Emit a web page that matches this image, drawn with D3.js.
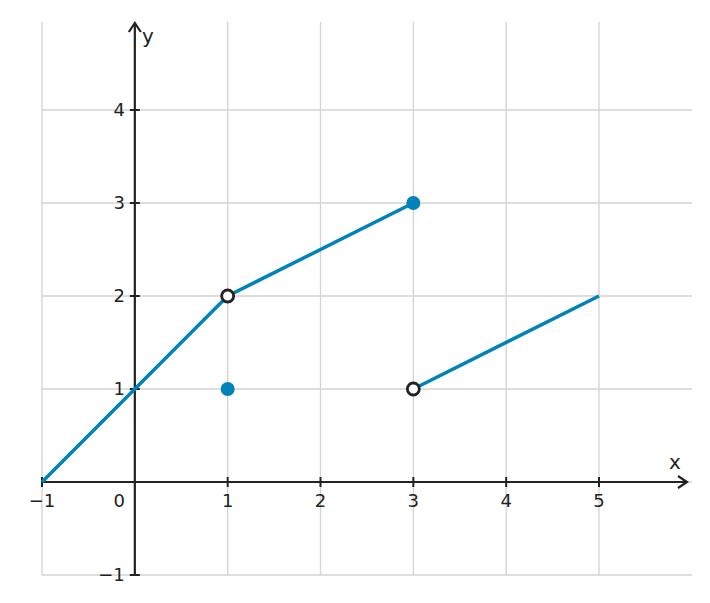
<!DOCTYPE html>
<html><head><meta charset="utf-8">
<script src="https://cdn.jsdelivr.net/npm/d3@7"></script>
<style>body{margin:0;background:#fff}text{font-family:"DejaVu Sans",sans-serif;fill:#222}</style>
</head><body><svg id="c" width="710" height="603"></svg>
<script>
const xTicks=[-1,1,2,3,4,5];
const yTicks=[-1,1,2,3,4];
const segments=[[[-1,0],[1,2]],[[1,2],[3,3]],[[3,1],[5,2]]];
const filledPts=[[1,1],[3,3]];
const openPts=[[1,2],[3,1]];
const color="#0083b8";
const svg=d3.select("#c");
const x=d3.scaleLinear().domain([-1,5]).range([42,599]);
const y=d3.scaleLinear().domain([0,4]).range([482,110]);
const g=svg.append("g");
// grid
[-1,0,1,2,3,4,5].forEach(v=>g.append("line").attr("x1",x(v)).attr("x2",x(v)).attr("y1",y(4.95)).attr("y2",y(-1)).attr("stroke","#d3d3d3").attr("stroke-width",1.3));
[-1,0,1,2,3,4].forEach(v=>g.append("line").attr("x1",x(-1)).attr("x2",692).attr("y1",y(v)).attr("y2",y(v)).attr("stroke","#d3d3d3").attr("stroke-width",1.3));
// axes
const ax="#222";
g.append("line").attr("x1",x(-1)).attr("x2",686).attr("y1",y(0)).attr("y2",y(0)).attr("stroke",ax).attr("stroke-width",2.2);
g.append("line").attr("x1",x(0)).attr("x2",x(0)).attr("y1",y(-1)).attr("y2",24).attr("stroke",ax).attr("stroke-width",2.2);
g.append("path").attr("d",`M678,${y(0)-6}L687,${y(0)}L678,${y(0)+6}`).attr("fill","none").attr("stroke",ax).attr("stroke-width",2.2);
g.append("path").attr("d",`M${x(0)-6},32L${x(0)},23L${x(0)+6},32`).attr("fill","none").attr("stroke",ax).attr("stroke-width",2.2);
xTicks.forEach(v=>{
 g.append("line").attr("x1",x(v)).attr("x2",x(v)).attr("y1",y(0)-5).attr("y2",y(0)+5).attr("stroke",ax).attr("stroke-width",2);
 g.append("text").attr("x",x(v)).attr("y",y(0)+25).attr("text-anchor","middle").attr("font-size",18).text(v<0?"\u2212"+(-v):v);
});
yTicks.forEach(v=>{
 g.append("line").attr("x1",x(0)-5).attr("x2",x(0)+5).attr("y1",y(v)).attr("y2",y(v)).attr("stroke",ax).attr("stroke-width",2);
 g.append("text").attr("x",x(0)-10).attr("y",y(v)+6).attr("text-anchor","end").attr("font-size",18).text(v<0?"\u2212"+(-v):v);
});
g.append("text").attr("x",x(0)-10).attr("y",y(0)+25).attr("text-anchor","end").attr("font-size",18).text("0");
g.append("text").attr("x",669).attr("y",469).attr("font-size",20).text("x");
g.append("text").attr("x",142).attr("y",43).attr("font-size",20).text("y");
const line=d3.line().x(d=>x(d[0])).y(d=>y(d[1]));
segments.forEach(s=>g.append("path").attr("d",line(s)).attr("fill","none").attr("stroke",color).attr("stroke-width",3.5));
filledPts.forEach(p=>g.append("circle").attr("cx",x(p[0])).attr("cy",y(p[1])).attr("r",7).attr("fill",color));
openPts.forEach(p=>g.append("circle").attr("cx",x(p[0])).attr("cy",y(p[1])).attr("r",6).attr("fill","#fff").attr("stroke","#222").attr("stroke-width",2.8));
</script></body></html>
